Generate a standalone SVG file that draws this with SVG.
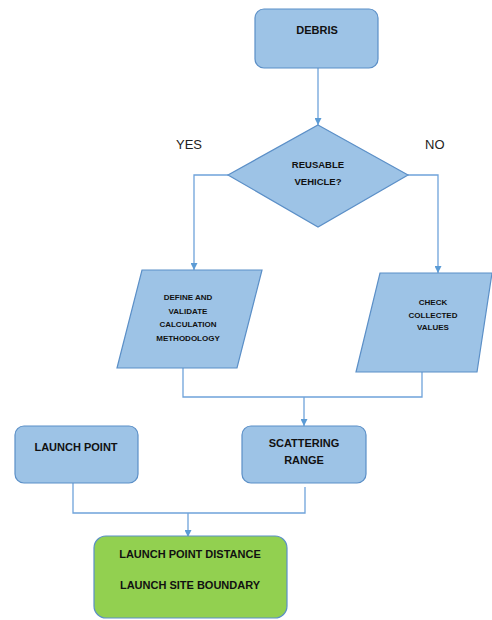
<svg xmlns="http://www.w3.org/2000/svg" width="492" height="620" viewBox="0 0 492 620">
<style>
.n{fill:#9DC3E6;stroke:#5B8FC7;stroke-width:1.2}
.g{fill:#92D050;stroke:#5B8FC7;stroke-width:1.2}
.t{font-family:"Liberation Sans",Arial,sans-serif;font-weight:bold;fill:#111;text-anchor:middle}
.s{font-size:8px}
.d{font-size:9.5px}
.m{font-size:11px}
.l{font-family:"Liberation Sans",Arial,sans-serif;font-size:13px;fill:#222}
.c{fill:none;stroke:#6FA3DA;stroke-width:1.3}
</style>
<defs>
<marker id="a" viewBox="0 0 10 10" refX="10" refY="5" markerWidth="7" markerHeight="7" markerUnits="userSpaceOnUse" orient="auto">
<path d="M0,0 L10,5 L0,10 z" fill="#5B9BD5"/>
</marker>
</defs>
<rect width="492" height="620" fill="#fff"/>
<g id="connectors">
<path class="c" d="M318,68 V125" marker-end="url(#a)"/>
<path class="c" d="M228,175 H194 V270" marker-end="url(#a)"/>
<path class="c" d="M408,175 H438 V273" marker-end="url(#a)"/>
<path class="c" d="M183,368 V397 H422 V372"/>
<path class="c" d="M304,397 V426" marker-end="url(#a)"/>
<path class="c" d="M73,483 V513 H305 V487"/>
<path class="c" d="M188,513 V537" marker-end="url(#a)"/>
</g>
<g id="debris">
<rect class="n" x="255" y="9" width="123" height="59" rx="9"/>
<text class="t m" x="317" y="34">DEBRIS</text>
</g>
<g id="reusable">
<polygon class="n" points="318,125 408,175 318,227 228,175"/>
<text class="t d" x="318" y="168">REUSABLE</text>
<text class="t d" x="318" y="185">VEHICLE?</text>
</g>
<text class="l" x="176" y="149">YES</text>
<text class="l" x="425" y="149">NO</text>
<g id="define">
<polygon class="n" points="142,270 262,270 237,368 117,368"/>
<text class="t s" x="188" y="300">DEFINE AND</text>
<text class="t s" x="188" y="314">VALIDATE</text>
<text class="t s" x="188" y="327">CALCULATION</text>
<text class="t s" x="188" y="341">METHODOLOGY</text>
</g>
<g id="check">
<polygon class="n" points="380,273 492,273 477,372 356,372"/>
<text class="t s" x="433" y="305">CHECK</text>
<text class="t s" x="433" y="318">COLLECTED</text>
<text class="t s" x="433" y="330">VALUES</text>
</g>
<g id="launchpoint">
<rect class="n" x="15" y="426" width="123" height="57" rx="9"/>
<text class="t m" x="76" y="451">LAUNCH POINT</text>
</g>
<g id="scattering">
<rect class="n" x="242" y="426" width="124" height="57" rx="9"/>
<text class="t m" x="304" y="447">SCATTERING</text>
<text class="t m" x="304" y="464">RANGE</text>
</g>
<g id="result">
<rect class="g" x="94" y="536" width="193" height="82" rx="12"/>
<text class="t m" x="190" y="558">LAUNCH POINT DISTANCE</text>
<text class="t m" x="190" y="589">LAUNCH SITE BOUNDARY</text>
</g>
</svg>
